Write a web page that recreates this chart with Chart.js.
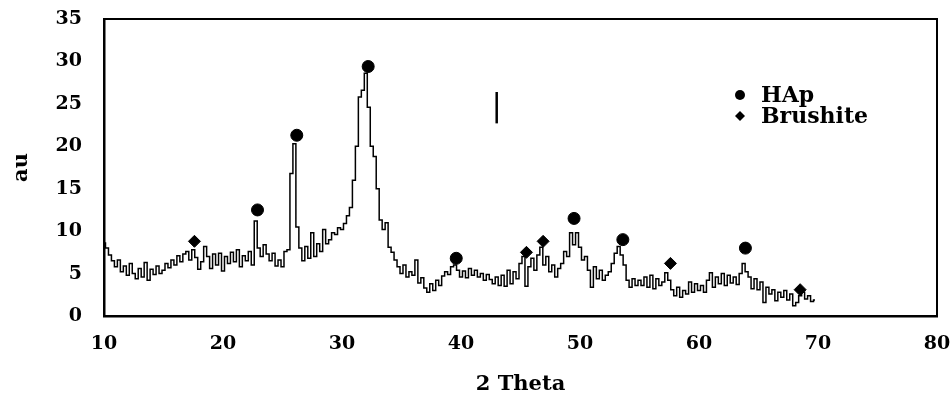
<!DOCTYPE html>
<html>
<head>
<meta charset="utf-8">
<script src="https://cdn.jsdelivr.net/npm/chart.js@4/dist/chart.umd.min.js"></script>
<style>
  html, body { margin: 0; padding: 0; background: #fff; }
  #wrap { width: 951px; height: 403px; }
</style>
</head>
<body>
<div id="wrap"><canvas id="xrdChart" width="951" height="403"></canvas></div>
<script>
// XRD scan, 0.25 deg steps from 10 deg
const thetaStart = 10;
const thetaStep = 0.25;
const intensity = [
  // 10.00 - 14.75
  8.6, 8.0, 7.2, 6.5, 5.8, 6.6, 5.2, 5.9, 4.8, 6.2, 5.0, 4.4, 5.6, 4.6, 6.3, 4.2, 5.5, 4.9, 5.9, 5.0,
  // 15.00 - 19.75
  5.4, 6.2, 5.7, 6.6, 6.0, 7.1, 6.4, 7.3, 7.6, 6.6, 7.8, 6.9, 5.5, 6.4, 8.2, 7.0, 5.6, 7.3, 6.0, 7.4,
  // 20.00 - 24.75
  5.3, 7.0, 6.2, 7.5, 6.4, 7.8, 5.8, 7.1, 6.5, 7.6, 6.0, 11.2, 8.0, 7.0, 8.4, 7.3, 6.5, 7.4, 5.9, 6.6,
  // 25.00 - 29.75
  5.8, 7.6, 7.8, 16.8, 20.3, 10.5, 8.0, 6.5, 8.2, 6.8, 9.8, 7.0, 8.5, 7.6, 10.2, 8.5, 9.0, 9.8, 9.6, 10.4,
  // 30.00 - 34.75
  10.2, 10.9, 11.8, 12.8, 16.0, 20.0, 25.8, 26.6, 28.6, 24.6, 20.0, 18.8, 15.0, 11.3, 10.2, 11.0, 8.1, 7.5, 6.6, 5.8,
  // 35.00 - 39.75
  5.0, 6.0, 4.6, 5.2, 4.8, 6.6, 3.9, 4.5, 3.3, 2.8, 3.8, 3.0, 4.2, 3.6, 4.7, 5.2, 4.9, 5.8, 6.0, 5.4,
  // 40.00 - 44.75
  4.6, 5.3, 4.5, 5.6, 4.8, 5.4, 4.6, 5.0, 4.2, 4.9, 4.3, 3.8, 4.6, 3.6, 4.8, 3.5, 5.4, 3.8, 5.2, 4.4,
  // 45.00 - 49.75
  6.2, 7.0, 3.5, 5.8, 6.8, 5.4, 7.2, 8.1, 6.0, 7.0, 5.2, 6.0, 4.6, 5.6, 6.2, 7.6, 7.0, 9.8, 8.4, 9.8,
  // 50.00 - 54.75
  8.1, 6.6, 7.0, 5.4, 3.4, 5.8, 4.4, 5.4, 4.2, 4.8, 5.2, 6.2, 7.4, 8.2, 7.2, 6.0, 4.2, 3.4, 4.4, 3.6,
  // 55.00 - 59.75
  4.2, 3.6, 4.6, 3.4, 4.8, 3.2, 4.4, 3.6, 4.0, 5.1, 4.2, 3.1, 2.4, 3.4, 2.2, 3.0, 2.6, 4.0, 2.8, 3.8,
  // 60.00 - 64.75
  3.0, 3.6, 2.8, 4.2, 5.1, 3.4, 4.6, 3.8, 5.0, 3.6, 4.8, 3.9, 4.6, 3.7, 5.0, 6.2, 5.2, 4.6, 3.2, 4.4,
  // 65.00 - 69.75
  3.1, 4.0, 1.6, 3.4, 2.6, 3.1, 1.8, 2.8, 2.2, 3.0, 1.9, 2.6, 1.2, 1.6, 2.4, 2.8, 2.0, 2.4, 1.7, 1.9
];

// phase markers
const hapTheta = [22.9, 26.2, 32.2, 39.6, 49.5, 53.6, 63.9];
const hapCounts = [12.5, 21.3, 29.4, 6.8, 11.5, 9.0, 8.0];
const brushiteTheta = [17.6, 45.5, 46.9, 57.6, 68.5];
const brushiteCounts = [8.8, 7.5, 8.8, 6.2, 3.1];

// stray tick mark in the figure
const markTheta = [43, 43];
const markCounts = [22.7, 26.4];

const legendLabels = ['HAp', 'Brushite'];

const FONT = "'DejaVu Serif', 'Liberation Serif', serif";

const scanPoints = intensity.map((v, i) => ({ x: thetaStart + i * thetaStep, y: v }));
const hapPoints = hapTheta.map((t, i) => ({ x: t, y: hapCounts[i] }));
const brushitePoints = brushiteTheta.map((t, i) => ({ x: t, y: brushiteCounts[i] }));
const markPoints = markTheta.map((t, i) => ({ x: t, y: markCounts[i] }));

// frame around the plot + legend inside the plot
const framePlugin = {
  id: 'frameAndLegend',
  afterDraw(chart) {
    const { ctx, chartArea: a } = chart;
    ctx.save();
    ctx.strokeStyle = '#000';
    ctx.lineWidth = 2;
    ctx.strokeRect(a.left, a.top, a.right - a.left, a.bottom - a.top);

    const lx = a.right - 197;
    const ly = a.top + 76;
    ctx.fillStyle = '#000';
    ctx.beginPath();
    ctx.arc(lx, ly, 5, 0, Math.PI * 2);
    ctx.fill();
    ctx.beginPath();
    ctx.moveTo(lx, ly + 16);
    ctx.lineTo(lx + 5, ly + 21);
    ctx.lineTo(lx, ly + 26);
    ctx.lineTo(lx - 5, ly + 21);
    ctx.closePath();
    ctx.fill();
    ctx.font = 'bold 22px ' + FONT;
    ctx.textBaseline = 'middle';
    ctx.fillText(legendLabels[0], lx + 21, ly + 1);
    ctx.fillText(legendLabels[1], lx + 21, ly + 22);
    ctx.restore();
  }
};

new Chart(document.getElementById('xrdChart'), {
  type: 'line',
  data: {
    datasets: [
      {
        label: 'scan',
        data: scanPoints,
        borderColor: '#000',
        borderWidth: 1.5,
        pointRadius: 0,
        stepped: 'middle',
        fill: false
      },
      {
        label: 'HAp',
        data: hapPoints,
        showLine: false,
        pointStyle: 'circle',
        pointRadius: 6,
        pointBackgroundColor: '#000',
        pointBorderColor: '#000'
      },
      {
        label: 'Brushite',
        data: brushitePoints,
        showLine: false,
        pointStyle: 'rectRot',
        pointRadius: 6,
        pointBackgroundColor: '#000',
        pointBorderColor: '#000'
      },
      {
        label: 'mark',
        data: markPoints,
        borderColor: '#000',
        borderWidth: 2.5,
        pointRadius: 0
      }
    ]
  },
  options: {
    responsive: false,
    animation: false,
    layout: { padding: { top: 19, right: 14, left: 0, bottom: 0 } },
    plugins: {
      legend: { display: false },
      tooltip: { enabled: false }
    },
    scales: {
      x: {
        type: 'linear',
        min: 10,
        max: 80,
        grid: { display: false, drawTicks: true, tickLength: 6, tickColor: '#000', tickWidth: 1.5 },
        border: { display: true, color: '#000', width: 2.5 },
        ticks: {
          stepSize: 10,
          color: '#000',
          padding: 11,
          font: { family: FONT, size: 19, weight: 'bold' }
        },
        title: {
          display: true,
          text: '2 Theta',
          color: '#000',
          padding: { top: 8, bottom: 6 },
          font: { family: FONT, size: 21, weight: 'bold' }
        },
        afterFit(scale) {
          scale.height = 87;
          scale.paddingLeft = 0;
          scale.paddingRight = 0;
        }
      },
      y: {
        min: 0,
        max: 35,
        grid: { display: false, drawTicks: true, tickLength: 6, tickColor: '#000', tickWidth: 1.5 },
        border: { display: true, color: '#000', width: 2.5 },
        ticks: {
          stepSize: 5,
          color: '#000',
          padding: 16,
          font: { family: FONT, size: 19, weight: 'bold' }
        },
        title: {
          display: true,
          text: 'au',
          color: '#000',
          padding: { top: 9, bottom: 0 },
          font: { family: FONT, size: 21, weight: 'bold' }
        },
        afterFit(scale) {
          scale.width = 104;
          scale.paddingTop = 0;
          scale.paddingBottom = 0;
        }
      }
    }
  },
  plugins: [framePlugin]
});
</script>
</body>
</html>
